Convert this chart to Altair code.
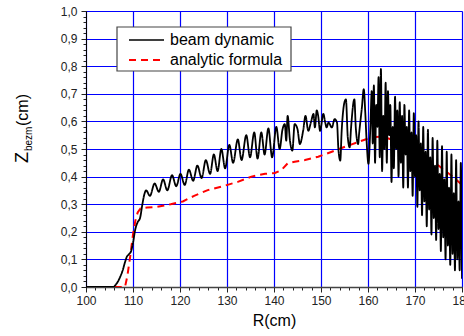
import altair as alt
import pandas as pd

# ---- beam dynamic trace: radius R (cm) and vertical size Z (cm) ----
beam_r = [
    100.0, 105.8, 106.3, 106.8, 107.3, 107.8, 108.3, 108.7, 109.1, 109.6,
    110.0, 110.5, 111.0, 111.5, 112.0, 112.4, 112.8,
    113.6, 114.6, 115.5, 116.4, 117.3, 118.3, 119.2, 120.1, 121.0, 121.9,
    122.8, 123.7, 124.6, 125.5, 126.4, 127.2, 128.0, 128.8, 129.6, 130.5,
    131.3, 132.3, 133.1, 134.1, 134.9, 135.8, 136.5, 137.3, 138.0, 138.8,
    139.6, 140.5, 141.2, 141.8,
    142.3, 142.6, 142.9, 143.4, 143.9, 144.4, 145.0, 145.5, 146.2, 146.7,
    147.3, 147.9, 148.4, 148.7, 149.1, 149.4, 149.8, 150.5, 150.9, 151.2,
    151.6, 152.3, 152.9, 153.4, 153.7, 154.1, 154.4, 155.0, 155.3, 155.7,
    156.1, 156.4, 157.1, 157.4, 157.9, 158.1, 158.7, 159.1, 159.4, 159.7,
    160.1, 160.5, 160.8,
    161.00, 161.25, 161.50, 161.75, 162.00, 162.25, 162.50, 162.75,
    163.00, 163.25, 163.50, 163.75, 164.00, 164.25, 164.50, 164.75,
    165.00, 165.25, 165.50, 165.75, 166.00, 166.25, 166.50, 166.75,
    167.00, 167.25, 167.50, 167.75, 168.00, 168.25, 168.50, 168.75,
    169.00, 169.25, 169.50, 169.75, 170.00, 170.25, 170.50, 170.75,
    171.00, 171.25, 171.50, 171.75, 172.00, 172.25, 172.50, 172.75,
    173.00, 173.25, 173.50, 173.75, 174.00, 174.25, 174.50, 174.75,
    175.00, 175.25, 175.50, 175.75, 176.00, 176.25, 176.50, 176.75,
    177.00, 177.25, 177.50, 177.75, 178.00, 178.25, 178.50, 178.75,
    179.00, 179.25, 179.50, 179.75, 180.00,
]
beam_z = [
    0.0, 0.0, 0.008, 0.02, 0.038, 0.06, 0.09, 0.11, 0.118, 0.13,
    0.16, 0.21, 0.235, 0.25, 0.30, 0.335, 0.35,
    0.33, 0.375, 0.345, 0.39, 0.35, 0.405, 0.365, 0.41, 0.37, 0.425,
    0.385, 0.44, 0.395, 0.46, 0.41, 0.48, 0.42, 0.50, 0.43, 0.515,
    0.45, 0.535, 0.46, 0.55, 0.47, 0.56, 0.465, 0.56, 0.48, 0.575,
    0.47, 0.58, 0.50, 0.57,
    0.59, 0.53, 0.62, 0.53, 0.494, 0.59, 0.572, 0.518, 0.566, 0.62,
    0.566, 0.60, 0.627, 0.578, 0.64, 0.62, 0.566, 0.627, 0.596, 0.578,
    0.596, 0.578, 0.608, 0.596, 0.50, 0.458, 0.566, 0.67, 0.68, 0.542,
    0.506, 0.578, 0.68, 0.578, 0.518, 0.554, 0.65, 0.717, 0.639, 0.53,
    0.446, 0.578, 0.71,
    0.52, 0.73, 0.45, 0.66, 0.58, 0.76, 0.47, 0.79,
    0.42, 0.62, 0.50, 0.74, 0.45, 0.71, 0.55, 0.66,
    0.38, 0.58, 0.43, 0.69, 0.50, 0.64, 0.40, 0.67,
    0.45, 0.62, 0.36, 0.66, 0.48, 0.58, 0.36, 0.64,
    0.42, 0.56, 0.33, 0.63, 0.40, 0.55, 0.29, 0.60,
    0.35, 0.52, 0.26, 0.58, 0.31, 0.49, 0.22, 0.57,
    0.28, 0.47, 0.19, 0.54, 0.25, 0.44, 0.17, 0.53,
    0.21, 0.41, 0.13, 0.51, 0.18, 0.39, 0.10, 0.49,
    0.15, 0.36, 0.08, 0.48, 0.12, 0.34, 0.06, 0.46,
    0.10, 0.31, 0.06, 0.45, 0.03,
]

# ---- analytic formula ----
formula_r = [
    101.0, 108.3, 108.8, 109.4, 110.0, 110.5, 111.0, 111.6, 113.0, 115.0,
    118.0, 120.6, 123.0, 125.9, 129.3, 132.3, 135.2, 138.1, 140.2, 141.6,
    142.9, 144.4, 146.6, 149.4, 152.3, 155.1, 158.0, 160.8, 163.0, 166.0,
    169.0, 172.0, 175.0, 178.0, 180.0,
]
formula_z = [
    0.0, 0.0, 0.04, 0.11, 0.19, 0.24, 0.27, 0.285, 0.288, 0.29,
    0.30, 0.31, 0.33, 0.351, 0.366, 0.381, 0.40, 0.41, 0.413, 0.424,
    0.448, 0.454, 0.46, 0.472, 0.49, 0.508, 0.526, 0.542, 0.545, 0.53,
    0.50, 0.47, 0.44, 0.40, 0.37,
]

series_names = ["beam dynamic", "analytic formula"]
series_colors = ["black", "red"]
series_dash = [[1, 0], [7, 5]]
series_width = [1.8, 2]

x_ticks = [100, 110, 120, 130, 140, 150, 160, 170, 180]
y_ticks = [0.0, 0.1, 0.2, 0.3, 0.4, 0.5, 0.6, 0.7, 0.8, 0.9, 1.0]
x_minor = [100 + 2 * i for i in range(41)]
y_minor = [round(0.02 * i, 2) for i in range(51)]

FONT = "Liberation Sans"

beam_df = pd.DataFrame({"R": beam_r, "Z": beam_z, "series": series_names[0]})
formula_df = pd.DataFrame({"R": formula_r, "Z": formula_z, "series": series_names[1]})

x_scale = alt.Scale(domain=[100, 180], nice=False, zero=False)
y_scale = alt.Scale(domain=[0, 1], nice=False, zero=False)

color_enc = alt.Color("series:N", scale=alt.Scale(domain=series_names, range=series_colors), legend=None)
dash_enc = alt.StrokeDash("series:N", scale=alt.Scale(domain=series_names, range=series_dash), legend=None)
width_enc = alt.StrokeWidth("series:N", scale=alt.Scale(domain=series_names, range=series_width), legend=None)

main_x_axis = alt.Axis(
    orient="bottom", values=x_ticks, title="R(cm)", grid=True, gridColor="#0000ff", gridWidth=1.2,
    domainColor="#444", domainWidth=1.6, tickColor="#222", tickSize=5,
    labelFont=FONT, labelFontSize=12, labelColor="#222", labelPadding=3,
    labelFlush=False, labelOverlap=False, labelBound=False,
    titleFont=FONT, titleFontSize=16, titleFontWeight="normal", titleColor="black",
    titlePadding=6,
)
main_y_axis = alt.Axis(
    orient="left", values=y_ticks, title=None, grid=True, gridColor="#0000ff", gridWidth=1.2,
    domainColor="black", tickColor="#222", tickSize=5,
    labelFont=FONT, labelFontSize=12, labelColor="#222", labelPadding=4,
    labelFlush=False, labelOverlap=False,
    labelExpr="replace(format(datum.value, '.1f'), '.', ',')",
)

# minor tick marks on both axes
minor = alt.Chart(beam_df).mark_point(opacity=0).encode(
    x=alt.X("R:Q", scale=x_scale, axis=alt.Axis(values=x_minor, labels=False, grid=False, domain=False,
                                                 tickSize=3, tickColor="#222", title=None, orient="bottom")),
    y=alt.Y("Z:Q", scale=y_scale, axis=alt.Axis(values=y_minor, labels=False, grid=False, domain=False,
                                                 tickSize=3, tickColor="#222", title=None, orient="left")),
)

formula_line = alt.Chart(formula_df).mark_line(clip=True).encode(
    x=alt.X("R:Q", scale=x_scale, axis=main_x_axis),
    y=alt.Y("Z:Q", scale=y_scale, axis=main_y_axis),
    color=color_enc, strokeDash=dash_enc, strokeWidth=width_enc,
)

beam_line = alt.Chart(beam_df).mark_line(clip=True, interpolate="monotone").encode(
    x=alt.X("R:Q", scale=x_scale, axis=None),
    y=alt.Y("Z:Q", scale=y_scale, axis=None),
    color=color_enc, strokeDash=dash_enc, strokeWidth=width_enc,
)

# legend box drawn in plot pixel space
legend_df = pd.DataFrame({"series": series_names, "row": [29, 49]})
legend_box = alt.Chart(pd.DataFrame({"k": [0]})).mark_rect(
    fill="white", stroke="#444", strokeWidth=1.2
).encode(x=alt.value(31), x2=alt.value(205), y=alt.value(16), y2=alt.value(60))
legend_lines = alt.Chart(legend_df).mark_rule().encode(
    x=alt.value(43), x2=alt.value(78), y=alt.Y("row:Q", scale=None),
    color=color_enc, strokeDash=dash_enc,
    strokeWidth=alt.StrokeWidth("series:N", scale=alt.Scale(domain=series_names, range=[1.5, 2]), legend=None),
)
legend_text = alt.Chart(legend_df).mark_text(
    align="left", baseline="middle", font=FONT, fontSize=16, color="black"
).encode(x=alt.value(84), y=alt.Y("row:Q", scale=None), text="series:N")

# y-axis title with subscript: Z_bezm(cm)
title_parts = [
    ("Z", 18, -58, 152),
    ("bezm", 10, -54, 140),
    ("(cm)", 16, -58, 115),
]
title_layers = []
for txt, size, px, py in title_parts:
    title_layers.append(
        alt.Chart(pd.DataFrame({"t": [txt]})).mark_text(
            angle=270, align="left", baseline="alphabetic", font=FONT, fontSize=size, color="black"
        ).encode(text="t:N", x=alt.value(px), y=alt.value(py))
    )

chart = alt.layer(
    minor, formula_line, beam_line, legend_box, legend_lines, legend_text, *title_layers
).resolve_axis(
    x="independent", y="independent"
).resolve_scale(
    strokeWidth="independent"
).properties(
    width=376, height=276,
    autosize=alt.AutoSizeParams(type="none"),
    padding={"left": 86, "top": 11, "right": 2, "bottom": 49},
).configure_view(stroke="black", strokeWidth=1.2).configure(background="white")

chart.save("out.html", embed_options={"renderer": "svg", "actions": False})
